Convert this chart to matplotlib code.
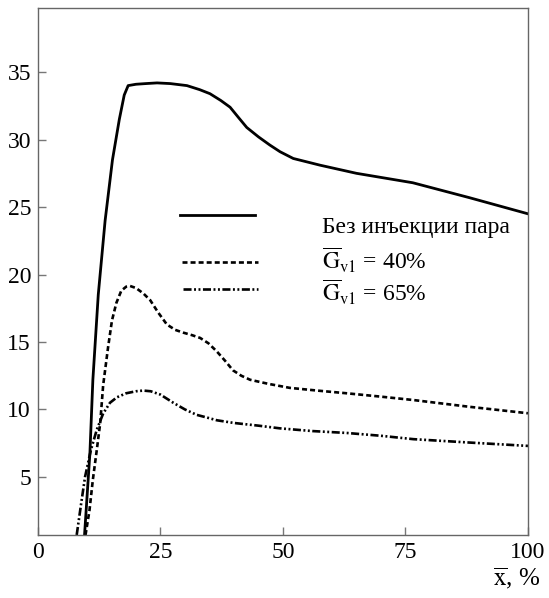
import matplotlib
matplotlib.use("Agg")
import matplotlib.pyplot as plt
from matplotlib.lines import Line2D

plt.rcParams["font.family"] = ["Liberation Serif", "DejaVu Serif"]
plt.rcParams["mathtext.fontset"] = "stix"
plt.rcParams["lines.scale_dashes"] = False

# Curve without steam injection
x_none = [9.5, 10.6, 11.2, 12.3, 13.7, 15.2, 16.6, 17.6, 18.4, 20, 22, 24.3, 27,
          30.4, 33, 35.1, 37.3, 39.2, 41, 42.6, 45, 47.3, 49.4, 52.1, 57.6, 65,
          76.5, 88, 100]
y_none = [0.7, 6.8, 12.2, 18.5, 24.0, 28.5, 31.5, 33.3, 34.0, 34.1, 34.15, 34.2,
          34.15, 34.0, 33.7, 33.4, 32.9, 32.4, 31.6, 30.9, 30.2, 29.6, 29.1, 28.6,
          28.1, 27.5, 26.8, 25.7, 24.5]

# Gv1 = 40 %
x_40 = [9.7, 10.5, 11.2, 12.0, 12.7, 13.3, 14.3, 15.1, 16.0, 17.0, 18.0, 18.8, 20,
        21.5, 22.9, 24.5, 26.3, 28, 29.6, 31.5, 33.1, 34.8, 36.5, 38.2, 39.8, 41.5,
        43.3, 47, 51.4, 57, 63, 70, 76.6, 88, 100]
y_40 = [0.7, 2.5, 4.8, 7.0, 9.0, 11.8, 14.6, 16.6, 17.9, 18.8, 19.1, 19.15, 19.0,
        18.6, 18.1, 17.2, 16.3, 15.9, 15.7, 15.5, 15.3, 14.9, 14.3, 13.6, 12.9, 12.5,
        12.2, 11.9, 11.6, 11.4, 11.2, 10.95, 10.7, 10.2, 9.72]

# Gv1 = 65 %
x_65 = [7.9, 8.8, 9.6, 10.8, 12.0, 13.3, 14.7, 16.1, 18, 20, 21.5, 23, 25, 27.6,
        30, 32.4, 34.5, 36.5, 40, 45, 49.4, 56, 63, 70, 76.6, 88, 100]
y_65 = [0.7, 3.0, 5.0, 7.0, 8.5, 9.7, 10.5, 10.9, 11.2, 11.35, 11.4, 11.35, 11.1,
        10.5, 10.0, 9.6, 9.4, 9.2, 9.0, 8.8, 8.6, 8.4, 8.26, 8.05, 7.8, 7.55, 7.3]

labels = ["Без инъекции пара",
          r"$\overline{\mathrm{G}}_{\mathrm{v1}}$ = 40%",
          r"$\overline{\mathrm{G}}_{\mathrm{v1}}$ = 65%"]

x_ticks = [0, 25, 50, 75, 100]
y_ticks = [5, 10, 15, 20, 25, 30, 35]

dash_40 = (0, (3.6, 2.2))
dash_65 = (0, (5.8, 1.8, 1.4, 1.8, 1.4, 1.8))

fig = plt.figure(figsize=(5.49, 5.98), dpi=100)
ax = fig.add_axes([0.0692, 0.1054, 0.8925, 0.8812])

ax.plot(x_none, y_none, color="black", lw=2.0, solid_joinstyle="round")
ax.plot(x_40, y_40, color="black", lw=1.9, linestyle=dash_40)
ax.plot(x_65, y_65, color="black", lw=1.9, linestyle=dash_65)

ax.set_xlim(0, 100)
ax.set_ylim(0.7, 39.75)
ax.set_xticks(x_ticks)
ax.set_yticks(y_ticks)
ax.tick_params(direction="in", length=6, width=1, color="#777777",
               labelsize=17, pad=5)
for s in ax.spines.values():
    s.set_color("#666666")
    s.set_linewidth(1)

# Legend drawn as sample segments with labels in axes coordinates
tr = ax.transAxes
samples = [
    ((0.290, 0.443), 0.607, dict(linestyle="-", lw=2.0)),
    ((0.294, 0.449), 0.518, dict(linestyle=dash_40, lw=1.9)),
    ((0.296, 0.449), 0.467, dict(linestyle=dash_65, lw=1.9)),
]
text_y = [0.573, 0.503, 0.442]
for (xs, y, style), lab, ty in zip(samples, labels, text_y):
    ax.add_line(Line2D(xs, [y, y], transform=tr, color="black", **style))
    ax.text(0.580, ty, lab, transform=tr, fontsize=17, va="baseline", ha="left")

fig.text(0.984, 0.012, r"$\overline{\mathrm{x}}$, %", fontsize=18, ha="right",
         va="bottom")

fig.savefig("out.png", dpi=100)
